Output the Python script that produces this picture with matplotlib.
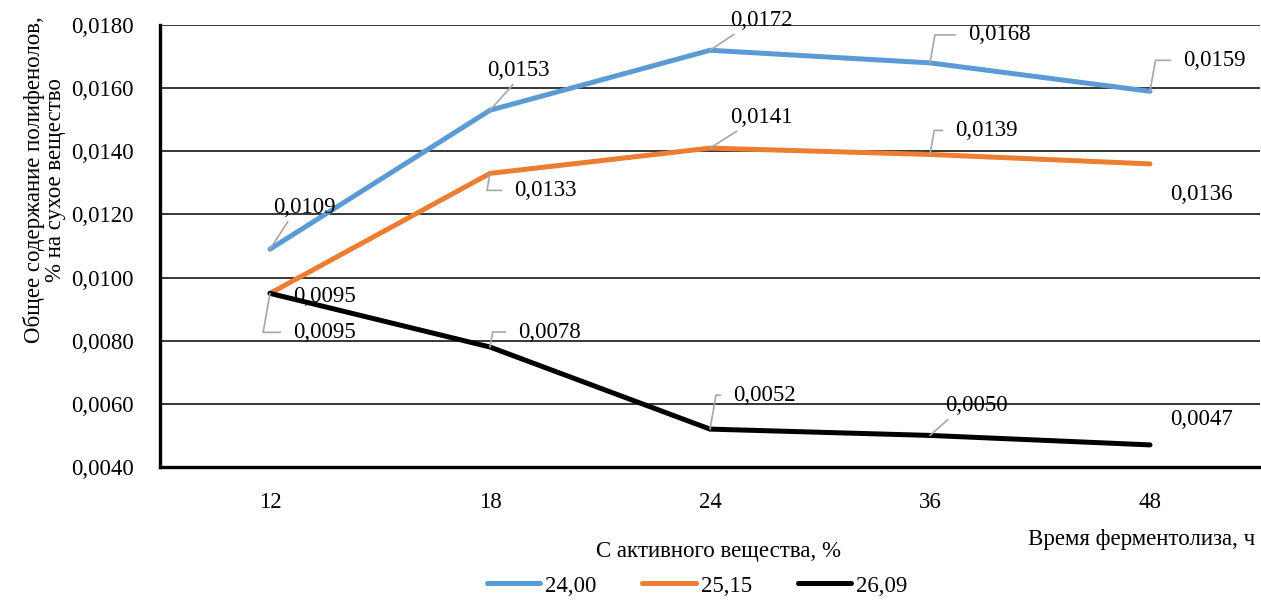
import numpy as np
import matplotlib.pyplot as plt

plt.rcParams['font.family'] = ['Liberation Serif', 'DejaVu Serif']

hours = ['12', '18', '24', '36', '48']
series_names = ['24,00', '25,15', '26,09']
vals_24 = [0.0109, 0.0153, 0.0172, 0.0168, 0.0159]
vals_25 = [0.0095, 0.0133, 0.0141, 0.0139, 0.0136]
vals_26 = [0.0095, 0.0078, 0.0052, 0.0050, 0.0047]
colors = ['#5B9BD5', '#ED7D31', '#000000']

# label offsets in pixels (text left-middle relative to the point) and leader kind
label_offsets = [
    [(3, 42, 'line', 0.3), (-3, 40, 'line', 0.5), (20, 30, 'line', 0.2), (38, 28, 'elbow', 0), (33, 31, 'elbow', 0)],
    [(23, -3, None, 0), (24, -17, 'elbow', 0), (20, 31, 'line', 0.25), (25, 24, 'elbow', 0), (20, -31, None, 0)],
    [(23, -39, 'elbow', 0), (28, 15, 'elbow', 0), (23, 34, 'elbow', 0), (15, 30, 'line', 0.15), (20, 25, None, 0)],
]

fs = 16.5
fig = plt.figure(figsize=(12.61, 6.04), dpi=100)
ax = fig.add_axes([160 / 1261, 1 - 467 / 604, 1100 / 1261, 442 / 604])

x = np.arange(len(hours))
all_vals = [vals_24, vals_25, vals_26]
lines = []
for vals, name, c in zip(all_vals, series_names, colors):
    ln, = ax.plot(x, vals, color=c, lw=3.6, solid_capstyle='round', label=name, zorder=3)
    lines.append(ln)

for vals, offs in zip(all_vals, label_offsets):
    for xi, v, (dx, dy, lead, rp) in zip(x, vals, offs):
        txt = f'{v:.4f}'.replace('.', ',')
        if lead is None:
            ax.annotate(txt, (xi, v), xytext=(dx, dy), textcoords='offset pixels',
                        ha='left', va='center', fontsize=fs, zorder=5)
        elif lead == 'elbow':
            ax.annotate(txt, (xi, v), xytext=(dx, dy), textcoords='offset pixels',
                        ha='left', va='center', fontsize=fs, zorder=5,
                        arrowprops=dict(arrowstyle='-', color='#A6A6A6', lw=1.2,
                                        shrinkA=7, shrinkB=0, relpos=(0, 0.5),
                                        connectionstyle='angle,angleA=0,angleB=80,rad=0'))
        else:
            ax.annotate(txt, (xi, v), xytext=(dx, dy), textcoords='offset pixels',
                        ha='left', va='center', fontsize=fs, zorder=5,
                        arrowprops=dict(arrowstyle='-', color='#A6A6A6', lw=1.2,
                                        shrinkA=1, shrinkB=0, relpos=(rp, 0.1),
                                        connectionstyle='arc3,rad=0'))

ax.set_xlim(-0.5, 4.5)
ax.set_ylim(0.0040, 0.0180)
ax.set_xticks(x)
ax.set_xticklabels(hours)
yt = np.arange(0.0040, 0.01801, 0.0020)
ax.set_yticks(yt)
ax.set_yticklabels([f'{t:.4f}'.replace('.', ',') for t in yt])
ax.tick_params(axis='both', length=0, labelsize=fs)
ax.tick_params(axis='x', pad=18)
ax.tick_params(axis='y', pad=19)
ax.grid(axis='y', color='black', lw=1.1, zorder=1)
ax.set_axisbelow(True)
for s in ['top', 'right']:
    ax.spines[s].set_visible(False)
ax.spines['left'].set_linewidth(2.4)
ax.spines['bottom'].set_linewidth(2.4)

fig.text(45 / 1261, 1 - 180 / 604, 'Общее содержание полифенолов,\n% на сухое вещество',
         rotation=90, ha='center', va='center', multialignment='center',
         fontsize=fs, linespacing=1.0)
fig.text(1255 / 1261, 1 - 540 / 604, 'Время ферментолиза, ч',
         ha='right', va='center', fontsize=fs)
fig.text(718 / 1261, 1 - 551 / 604, 'С активного вещества, %',
         ha='center', va='center', fontsize=fs)

fig.legend(handles=lines, labels=series_names,
           loc='center', bbox_to_anchor=(697 / 1261, 1 - 586 / 604), ncol=3,
           frameon=False, fontsize=fs,
           handlelength=2.35, handletextpad=0.2, columnspacing=2.0,
           borderpad=0.1)

fig.savefig('out.png', dpi=100)
